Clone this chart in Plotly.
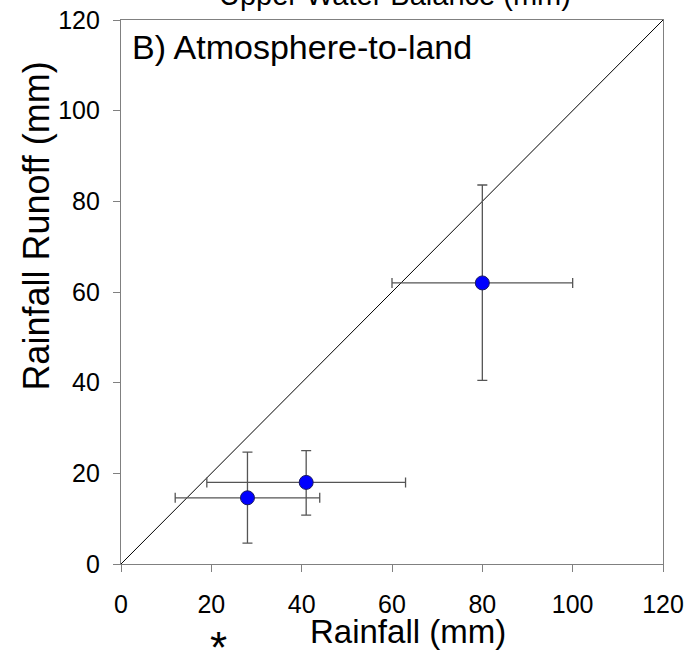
import plotly.graph_objects as go

rainfall = [28, 41, 80]
runoff = [14.6, 18.0, 62.0]
rain_lo = [12, 19, 60]
rain_hi = [44, 63, 100]
run_lo = [4.6, 10.8, 40.5]
run_hi = [24.7, 25.0, 83.6]
one_to_one = [0, 120]
ticks = [0, 20, 40, 60, 80, 100, 120]

FONT = "Liberation Sans, Arial"

fig = go.Figure()
fig.add_trace(go.Scatter(x=one_to_one, y=one_to_one, mode="lines",
                         line=dict(color="black", width=1), showlegend=False, hoverinfo="skip"))
fig.add_trace(go.Scatter(
    x=rainfall, y=runoff, mode="markers",
    marker=dict(color="#0000ff", size=14, line=dict(color="#1a1a60", width=1)),
    error_x=dict(type="data", symmetric=False,
                 array=[h - v for h, v in zip(rain_hi, rainfall)],
                 arrayminus=[v - l for l, v in zip(rain_lo, rainfall)],
                 color="#555555", thickness=1.3, width=5),
    error_y=dict(type="data", symmetric=False,
                 array=[h - v for h, v in zip(run_hi, runoff)],
                 arrayminus=[v - l for l, v in zip(run_lo, runoff)],
                 color="#555555", thickness=1.3, width=5),
    showlegend=False))

axis_common = dict(range=[0, 120], tickvals=ticks, ticks="outside", ticklen=7,
                   tickcolor="#808080", showline=True, linecolor="#808080", linewidth=1.3,
                   mirror=True, showgrid=False, zeroline=False, automargin=False,
                   tickfont=dict(family=FONT, size=25, color="black"))

fig.update_layout(
    width=689, height=654,
    margin=dict(l=121, r=26, t=20, b=90),
    plot_bgcolor="white", paper_bgcolor="white",
    xaxis=dict(**axis_common, ticklabelstandoff=11),
    yaxis=dict(**axis_common, ticklabelstandoff=8),
    annotations=[
        dict(text="B) Atmosphere-to-land", xref="paper", yref="paper", x=0.017, y=0.950,
             xanchor="left", yanchor="middle", showarrow=False,
             font=dict(family=FONT, size=34, color="black")),
        dict(text="Rainfall (mm)", xref="paper", yref="paper", x=0.5295, y=-0.087,
             xanchor="center", yanchor="top", showarrow=False,
             font=dict(family=FONT, size=33, color="black")),
        dict(text="Rainfall Runoff (mm)", xref="paper", yref="paper", x=-0.156, y=0.621,
             xanchor="center", yanchor="middle", textangle=-90, showarrow=False,
             font=dict(family=FONT, size=36, color="black")),
        dict(text="*", xref="paper", yref="paper", x=0.179, y=-0.1045,
             xanchor="center", yanchor="top", showarrow=False,
             font=dict(family=FONT, size=44, color="black")),
        dict(text="Upper Water Balance (mm)", xref="paper", yref="paper", x=0.5055, y=1.0129,
             xanchor="center", yanchor="bottom", showarrow=False,
             font=dict(family=FONT, size=29, color="black")),
    ],
)

fig.write_html("out.html")
